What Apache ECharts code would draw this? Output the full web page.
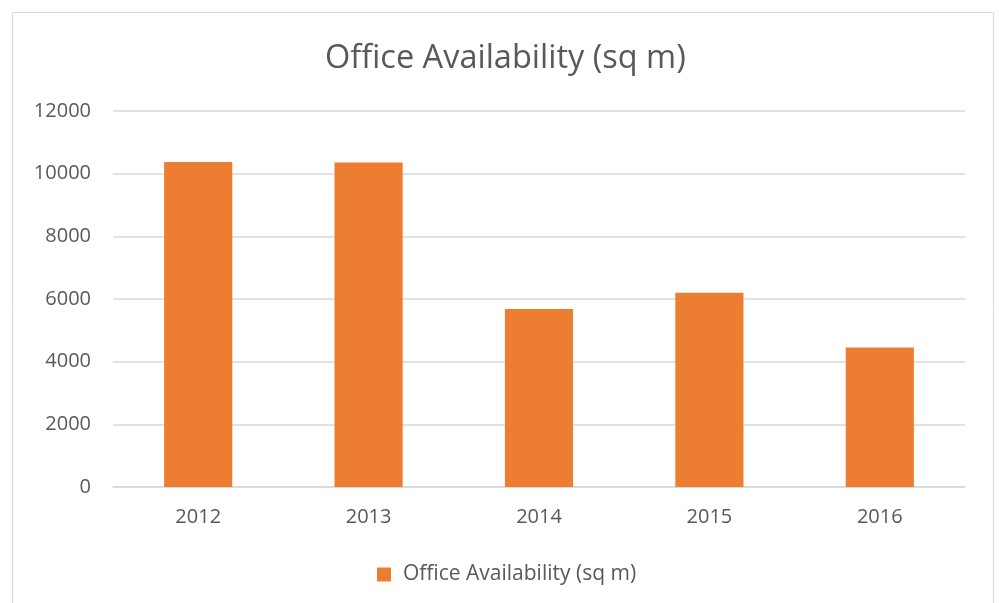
<!DOCTYPE html>
<html>
<head>
<meta charset="utf-8">
<script src="https://cdn.jsdelivr.net/npm/echarts@6/dist/echarts.min.js"></script>
<style>
  html, body { margin: 0; padding: 0; background: #fff; }
  #chart { width: 999px; height: 603px; }
</style>
</head>
<body>
<div id="chart"></div>
<script>
// data
var years = ['2012', '2013', '2014', '2015', '2016'];
var availability = [10370, 10360, 5680, 6200, 4450];
var seriesName = 'Office Availability (sq m)';

var textColor = '#595959';
var font = 'Open Sans';

var myChart = echarts.init(document.getElementById('chart'));
var option = {
  backgroundColor: '#fff',
  animation: false,
  title: {
    text: 'Office Availability (sq m)',
    left: 320,
    top: 37,
    textStyle: {
      fontFamily: font,
      fontSize: 32.5,
      fontWeight: 'normal',
      color: textColor
    }
  },
  graphic: [
    {
      type: 'rect',
      shape: { x: 12.5, y: 12.5, width: 981, height: 620 },
      style: { fill: 'none', stroke: '#d9d9d9', lineWidth: 1 },
      silent: true
    }
  ],
  grid: {
    left: 113,
    right: 34,
    top: 111,
    bottom: 116
  },
  legend: {
    data: [seriesName],
    left: 372,
    top: 559,
    itemWidth: 14,
    itemHeight: 14,
    icon: 'rect',
    textStyle: {
      fontFamily: font,
      fontSize: 21,
      color: textColor,
      padding: [0, 0, 0, 7]
    }
  },
  xAxis: {
    type: 'category',
    data: years,
    axisTick: { show: false },
    axisLine: { lineStyle: { color: '#d9d9d9', width: 1.5 } },
    axisLabel: {
      fontFamily: font,
      fontSize: 20,
      color: textColor,
      margin: 20
    }
  },
  yAxis: {
    type: 'value',
    min: 0,
    max: 12000,
    interval: 2000,
    axisLine: { show: false },
    axisTick: { show: false },
    splitLine: { lineStyle: { color: '#d9d9d9', width: 1.5 } },
    axisLabel: {
      fontFamily: font,
      fontSize: 20,
      color: textColor,
      margin: 22,
      formatter: function (v) { return String(v); }
    }
  },
  series: [
    {
      name: seriesName,
      type: 'bar',
      data: availability,
      barWidth: '40%',
      itemStyle: { color: '#ed7d31' }
    }
  ]
};
myChart.setOption(option);
</script>
</body>
</html>
